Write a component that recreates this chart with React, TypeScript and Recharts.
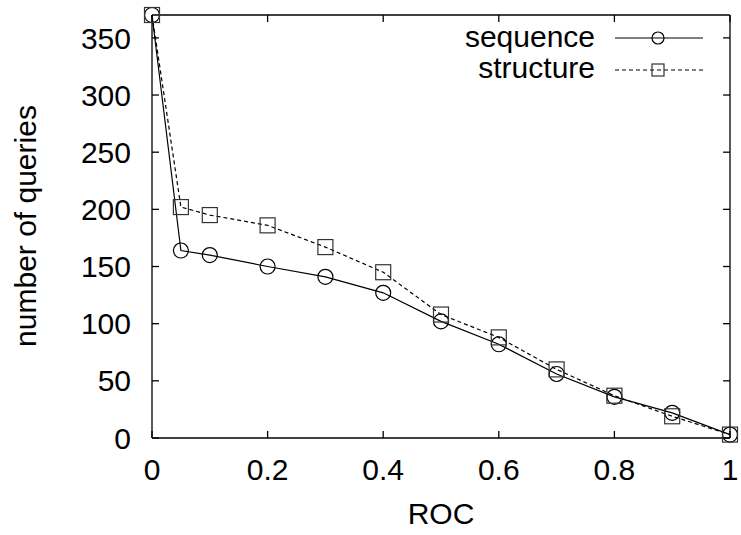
import { LineChart, Line, XAxis, YAxis, Label, Customized, ReferenceLine } from "recharts";

const rocLevels = [0, 0.05, 0.1, 0.2, 0.3, 0.4, 0.5, 0.6, 0.7, 0.8, 0.9, 1];
const sequenceQueries = [370, 164, 160, 150, 141, 127, 102, 82, 56, 36, 22, 3];
const structureQueries = [370, 202, 195, 186, 167, 145, 108, 88, 60, 37, 19, 3];
const xTicks = [0, 0.2, 0.4, 0.6, 0.8, 1];
const yTicks = [0, 50, 100, 150, 200, 250, 300, 350];

const X_MAX = 1;
const Y_MAX = 370;
// inward tick length of the mirrored (top / right) ticks, in data units (~7px)
const X_TICK_LEN = 0.012;
const Y_TICK_LEN = 6.1;

const data = rocLevels.map((roc, i) => ({
  roc,
  sequence: sequenceQueries[i],
  structure: structureQueries[i],
}));

const FONT = "'Liberation Sans', Arial, Helvetica, sans-serif";
const tickStyle = { fontSize: 30, fill: "#000", fontFamily: FONT };
const fmtX = (v: number) => (v === 0 || v === 1 ? String(v) : v.toFixed(1));

const CircleDot = ({ cx, cy, r = 7.5 }: any) => (
  <circle cx={cx} cy={cy} r={r} fill="none" stroke="#000" strokeWidth={1.2} />
);

const SquareDot = ({ cx, cy, s = 15 }: any) => (
  <rect
    x={cx - s / 2}
    y={cy - s / 2}
    width={s}
    height={s}
    fill="none"
    stroke="#333"
    strokeWidth={1.2}
  />
);

const LegendBox = () => (
  <g fontFamily={FONT} fontSize={30}>
    <text x={595} y={47} textAnchor="end">
      sequence
    </text>
    <line x1={615} x2={703} y1={38} y2={38} stroke="#000" strokeWidth={1.2} />
    <CircleDot cx={658} cy={38} r={6} />
    <text x={595} y={78} textAnchor="end">
      structure
    </text>
    <line
      x1={615}
      x2={703}
      y1={70}
      y2={70}
      stroke="#000"
      strokeWidth={1.2}
      strokeDasharray="4 3"
    />
    <SquareDot cx={658} cy={70} s={12} />
  </g>
);

export default function App() {
  return (
    <div
      style={{
        position: "absolute",
        left: 0,
        top: 0,
        width: 741,
        height: 535,
        overflow: "hidden",
        background: "#fff",
      }}
    >
      <style>{"html,body{margin:0;overflow:hidden}"}</style>
      <LineChart
        width={741}
        height={535}
        data={data}
        margin={{ top: 15, right: 11, bottom: 0, left: 0 }}
      >
        <XAxis
          dataKey="roc"
          type="number"
          domain={[0, X_MAX]}
          ticks={xTicks}
          interval={0}
          tickFormatter={fmtX}
          height={97}
          tick={tickStyle}
          tickSize={-7}
          tickMargin={28}
          stroke="#000"
          strokeWidth={1.3}
        >
          <Label
            value="ROC"
            content={() => (
              <text x={441} y={524} textAnchor="middle" fontSize={30} fontFamily={FONT}>
                ROC
              </text>
            )}
          />
        </XAxis>
        <YAxis
          type="number"
          domain={[0, Y_MAX]}
          ticks={yTicks}
          interval={0}
          width={152}
          tick={tickStyle}
          tickSize={-7}
          tickMargin={28}
          stroke="#000"
          strokeWidth={1.3}
        >
          <Label
            value="number of queries"
            content={() => (
              <text
                x={36}
                y={226}
                transform="rotate(-90 36 226)"
                textAnchor="middle"
                fontSize={30}
                fontFamily={FONT}
              >
                number of queries
              </text>
            )}
          />
        </YAxis>

        {/* top and right border of the frame, with mirrored ticks */}
        <ReferenceLine y={Y_MAX} stroke="#000" strokeWidth={1.3} ifOverflow="visible" />
        <ReferenceLine x={X_MAX} stroke="#000" strokeWidth={1.3} ifOverflow="visible" />
        {xTicks.map((t) => (
          <ReferenceLine
            key={`tx${t}`}
            segment={[
              { x: t, y: Y_MAX },
              { x: t, y: Y_MAX - Y_TICK_LEN },
            ]}
            stroke="#000"
            strokeWidth={1.3}
            ifOverflow="visible"
          />
        ))}
        {yTicks.map((t) => (
          <ReferenceLine
            key={`ty${t}`}
            segment={[
              { x: X_MAX, y: t },
              { x: X_MAX - X_TICK_LEN, y: t },
            ]}
            stroke="#000"
            strokeWidth={1.3}
            ifOverflow="visible"
          />
        ))}

        <Line
          dataKey="sequence"
          type="linear"
          stroke="#000"
          strokeWidth={1.2}
          dot={(p: any) => <CircleDot key={`c${p.index}`} cx={p.cx} cy={p.cy} />}
          isAnimationActive={false}
        />
        <Line
          dataKey="structure"
          type="linear"
          stroke="#000"
          strokeWidth={1.2}
          strokeDasharray="4 3"
          dot={(p: any) => <SquareDot key={`s${p.index}`} cx={p.cx} cy={p.cy} />}
          isAnimationActive={false}
        />
        <Customized component={LegendBox} />
      </LineChart>
    </div>
  );
}
